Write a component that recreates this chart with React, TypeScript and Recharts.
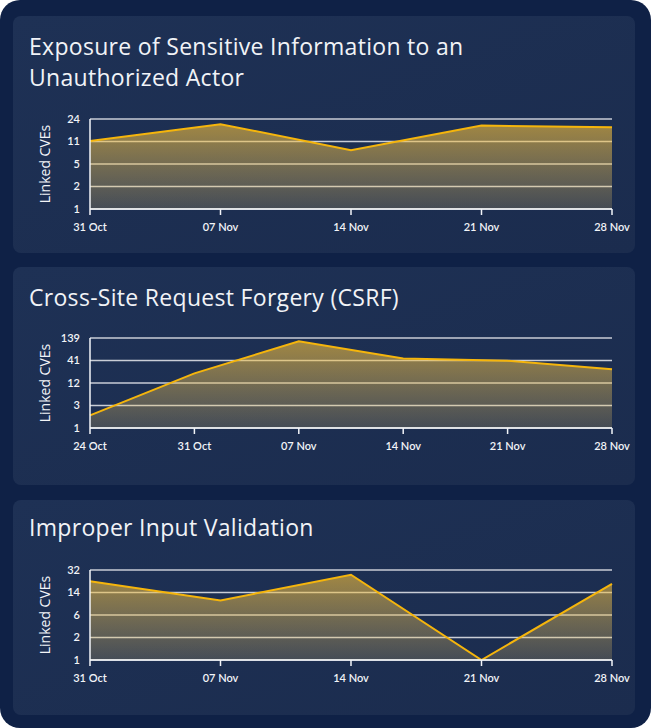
import {
  Area,
  AreaChart,
  CartesianGrid,
  XAxis,
  YAxis,
} from "recharts";

const octNovDates = ["31 Oct", "07 Nov", "14 Nov", "21 Nov", "28 Nov"];
const csrfDates = ["24 Oct", "31 Oct", "07 Nov", "14 Nov", "21 Nov", "28 Nov"];

const exposureCves = [11, 20, 8, 19, 18];
const csrfCves = [2, 20, 116, 45, 40, 25];
const inputValidationCves = [21, 10, 27, 1, 19];

const exposureTicks = ["1", "2", "5", "11", "24"];
const csrfTicks = ["1", "3", "12", "41", "139"];
const inputValidationTicks = ["1", "2", "6", "14", "32"];

const GOLD = "#f5b50c";
const AXIS = "#f2f4f8";
const GRID = "#c9cdd6";
const TICK_FONT = "Lato, 'Open Sans', sans-serif";
const TEXT_FONT = "'Open Sans', Lato, sans-serif";

function CveChart({
  id,
  dates,
  values,
  tickLabels,
}: {
  id: string;
  dates: string[];
  values: number[];
  tickLabels: string[];
}) {
  const data = dates.map((date, i) => ({ date, cves: values[i] }));
  const top = Math.max(...values) * 1.2;
  // ticks sit evenly in log space, labels are the rounded values
  const ticks = tickLabels.map((_, i) => Math.pow(top, i / (tickLabels.length - 1)));

  return (
    <AreaChart
      width={622}
      height={135}
      data={data}
      margin={{ top: 10, right: 23, left: 0, bottom: 5 }}
    >
      <defs>
        <linearGradient id={id} x1="0" y1="0" x2="0" y2="1">
          <stop offset="0%" stopColor="#f2bd3a" stopOpacity={0.62} />
          <stop offset="100%" stopColor="#e8c46a" stopOpacity={0.2} />
        </linearGradient>
      </defs>
      <CartesianGrid vertical={false} stroke={GRID} strokeWidth={1.5} />
      <XAxis
        dataKey="date"
        height={30}
        stroke={AXIS}
        axisLine={{ stroke: AXIS, strokeWidth: 1.5 }}
        tickLine={{ stroke: AXIS, strokeWidth: 1.5 }}
        tickSize={6}
        tickMargin={8}
        interval={0}
        tick={{ fill: AXIS, fontSize: 11, fontWeight: 600, fontFamily: TICK_FONT }}
      />
      <YAxis
        type="number"
        scale="log"
        domain={[1, top]}
        ticks={ticks}
        interval={0}
        allowDataOverflow
        width={77}
        axisLine={{ stroke: AXIS, strokeWidth: 1.5 }}
        tickLine={false}
        tickSize={0}
        tickMargin={10}
        tick={{ fill: AXIS, fontSize: 11, fontWeight: 600, fontFamily: TICK_FONT }}
        tickFormatter={(_v: number, i: number) => tickLabels[i]}
        label={{
          value: "Linked CVEs",
          angle: -90,
          position: "center",
          dx: -6,
          fill: AXIS,
          fontSize: 14,
          fontFamily: TEXT_FONT,
        }}
      />
      <Area
        type="linear"
        dataKey="cves"
        stroke={GOLD}
        strokeWidth={2}
        fill={`url(#${id})`}
        fillOpacity={1}
        dot={false}
        activeDot={false}
        isAnimationActive={false}
      />
    </AreaChart>
  );
}

function Panel({
  top,
  height,
  titleTop,
  chartTop,
  children,
  title,
}: {
  top: number;
  height: number;
  titleTop: number;
  chartTop: number;
  title: React.ReactNode;
  children: React.ReactNode;
}) {
  return (
    <div
      style={{
        position: "absolute",
        left: 13,
        top,
        width: 622,
        height,
        borderRadius: 8,
        background: "linear-gradient(160deg, #1e3155 0%, #1b2c4e 100%)",
      }}
    >
      <div
        style={{
          position: "absolute",
          left: 16,
          top: titleTop,
          fontSize: 23,
          letterSpacing: 0.3,
          lineHeight: "31px",
          color: "#f1f3f7",
          fontFamily: TEXT_FONT,
        }}
      >
        {title}
      </div>
      <div style={{ position: "absolute", left: 0, top: chartTop }}>{children}</div>
    </div>
  );
}

export default function App() {
  return (
    <>
      <style>{"body{margin:0;background:#fff}"}</style>
      <div
        style={{
          position: "relative",
          width: 651,
          height: 728,
          borderRadius: 20,
          background: "#0f2146",
          overflow: "hidden",
        }}
      >
        <Panel
          top={16}
          height={237}
          titleTop={15}
          chartTop={93}
          title={
            <>
              Exposure of Sensitive Information to an
              <br />
              Unauthorized Actor
            </>
          }
        >
          <CveChart
            id="g1"
            dates={octNovDates}
            values={exposureCves}
            tickLabels={exposureTicks}
          />
        </Panel>
        <Panel
          top={267}
          height={218}
          titleTop={15}
          chartTop={61}
          title="Cross-Site Request Forgery (CSRF)"
        >
          <CveChart id="g2" dates={csrfDates} values={csrfCves} tickLabels={csrfTicks} />
        </Panel>
        <Panel
          top={500}
          height={215}
          titleTop={12}
          chartTop={60}
          title="Improper Input Validation"
        >
          <CveChart
            id="g3"
            dates={octNovDates}
            values={inputValidationCves}
            tickLabels={inputValidationTicks}
          />
        </Panel>
      </div>
    </>
  );
}
